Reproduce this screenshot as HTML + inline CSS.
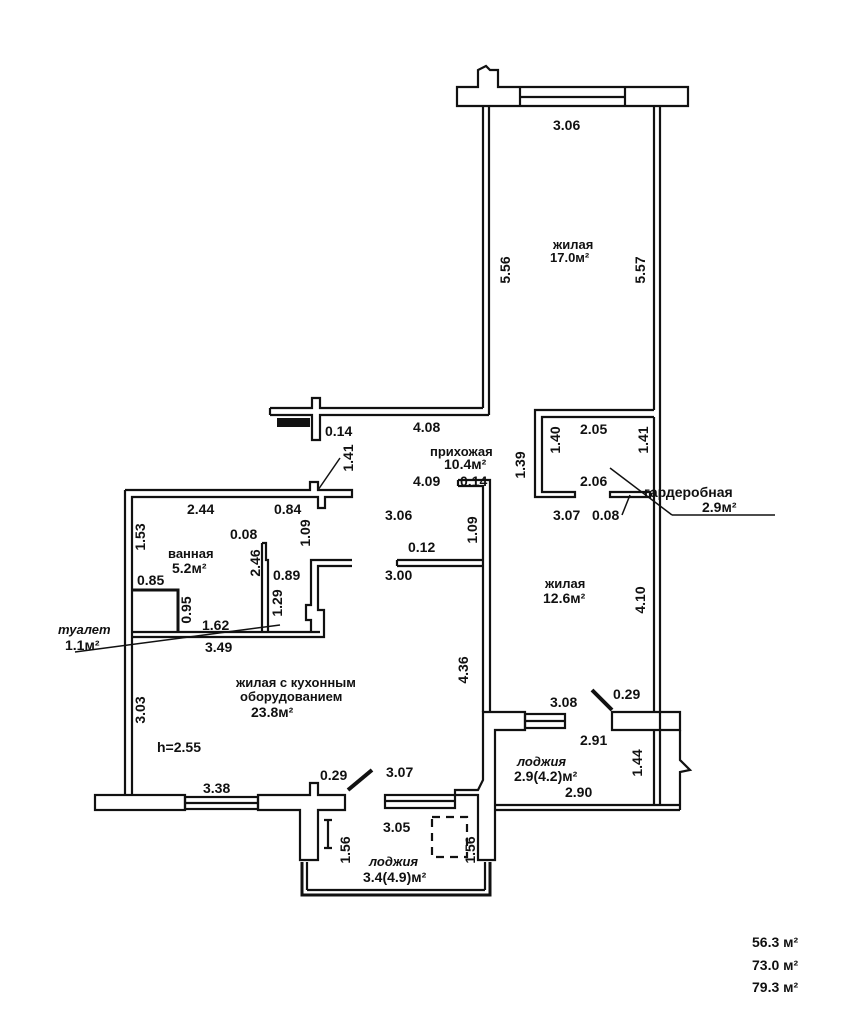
<!DOCTYPE html>
<html><head><meta charset="utf-8"><style>
html,body{margin:0;padding:0;background:#fff;}
svg{display:block}
text{font-family:"Liberation Sans",sans-serif;font-size:14px;fill:#111;font-weight:bold}
.v{text-anchor:middle;dominant-baseline:central}
</style></head><body>
<svg width="858" height="1030" viewBox="0 0 858 1030" xmlns="http://www.w3.org/2000/svg">
<g fill="none" stroke="#111" stroke-width="2.2">
<path d="M457 87 L478 87 L478 70 L486 66 L490 70 L498 70 L498 87 L688 87 L688 106 L457 106 Z"/>
<line x1="520" y1="87" x2="520" y2="106"/><line x1="625" y1="87" x2="625" y2="106"/>
<line x1="520" y1="97" x2="625" y2="97"/>
<line x1="483" y1="106" x2="483" y2="408"/><line x1="489" y1="106" x2="489" y2="415"/>
<line x1="654" y1="106" x2="654" y2="410"/><line x1="660" y1="106" x2="660" y2="805"/>
<line x1="654" y1="417" x2="654" y2="712"/>
<path d="M270 408 L312 408 L312 398 L320 398 L320 408 L483 408"/>
<path d="M270 415 L312 415 L312 440 L320 440 L320 415 L489 415"/>
<line x1="270" y1="408" x2="270" y2="415"/>
<path d="M654 410 L535 410 L535 497 L575 497 L575 492 L542 492 L542 417 L654 417"/>
<path d="M610 492 L650 492 L650 497 L610 497 Z"/>
<path d="M125 490 L310 490 L310 482 L318 482 L318 490 L352 490 L352 497 L325 497 L325 508 L318 508 L318 497 L132 497 L132 795"/>
<line x1="125" y1="490" x2="125" y2="795"/>
<path d="M262 543 L266 543 L266 560 L268 560 L268 632"/><line x1="262" y1="543" x2="262" y2="632"/>
<line x1="132" y1="632" x2="320" y2="632"/><line x1="132" y1="637" x2="320" y2="637"/>
<path d="M352 560 L311 560 L311 605 L306 605 L306 620 L311 620 L311 632"/>
<path d="M352 566 L318 566 L318 610 L324 610 L324 637 L320 637"/>
<path d="M458 480 L490 480 L490 712"/><path d="M458 486 L483 486 L483 712"/>
<line x1="458" y1="480" x2="458" y2="486"/>
<path d="M397 560 L483 560 M397 566 L483 566 M397 560 L397 566"/>
<rect x="95" y="795" width="90" height="15"/>
<rect x="185" y="797" width="73" height="12"/><line x1="185" y1="803" x2="258" y2="803"/>
<path d="M258 795 L310 795 L310 783 L318 783 L318 795 L345 795 L345 810 L318 810 L318 860 L300 860 L300 810 L258 810 Z"/>
<path d="M302 862 L302 895 L490 895 L490 862" stroke-width="3"/>
<line x1="307" y1="862" x2="307" y2="890"/><line x1="307" y1="890" x2="485" y2="890"/><line x1="485" y1="862" x2="485" y2="890"/>
<rect x="385" y="795" width="70" height="13"/><line x1="385" y1="801" x2="455" y2="801"/>
<path d="M455 795 L478 795 L478 860 L495 860 L495 730 L525 730 L525 712 L483 712 L483 780 L478 790 L455 790 Z"/>
<rect x="525" y="714" width="40" height="14"/><line x1="525" y1="721" x2="565" y2="721"/>
<path d="M612 712 L680 712 L680 730 L612 730 Z"/>
<path d="M680 730 L680 760 L690 770 L680 772 L680 810"/>
<line x1="495" y1="805" x2="680" y2="805"/><line x1="495" y1="810" x2="680" y2="810"/>
<line x1="654" y1="730" x2="654" y2="805"/>
<rect x="432" y="817" width="35" height="40" stroke-dasharray="8 6"/>
<path d="M328 820 L328 848 M324 820 L332 820 M324 848 L332 848"/>
</g>
<g stroke="#111" stroke-width="4">
<line x1="348" y1="790" x2="372" y2="770"/><line x1="612" y1="710" x2="592" y2="690"/>
<path d="M132 590 L178 590 L178 632" fill="none" stroke-width="3"/>
<rect x="277" y="418" width="33" height="9" fill="#111" stroke="none"/>
</g>
<g stroke="#111" stroke-width="1.5" fill="none">
<line x1="318" y1="490" x2="340" y2="458"/>
<line x1="610" y1="468" x2="672" y2="515"/><line x1="672" y1="515" x2="775" y2="515"/>
<line x1="75" y1="652" x2="280" y2="625"/>
<line x1="630" y1="495" x2="622" y2="515"/>
</g>
<text x="553" y="130">3.06</text>
<text x="553" y="249" style="font-size:13px">жилая</text>
<text x="550" y="262" style="font-size:13px">17.0м²</text>
<text class="v" transform="translate(505,270) rotate(-90)">5.56</text>
<text class="v" transform="translate(640,270) rotate(-90)">5.57</text>
<text x="413" y="432">4.08</text>
<text x="325" y="436">0.14</text>
<text class="v" transform="translate(348,458) rotate(-90)">1.41</text>
<text x="430" y="456" style="font-size:13px">прихожая</text>
<text x="444" y="469">10.4м²</text>
<text x="413" y="486">4.09</text><text x="460" y="486">0.14</text>
<text x="385" y="520">3.06</text>
<text class="v" transform="translate(472,530) rotate(-90)">1.09</text>
<text x="408" y="552">0.12</text>
<text x="385" y="580">3.00</text>
<text x="187" y="514">2.44</text><text x="274" y="514">0.84</text>
<text class="v" transform="translate(305,533) rotate(-90)">1.09</text>
<text class="v" transform="translate(140,537) rotate(-90)">1.53</text>
<text x="230" y="539">0.08</text>
<text x="168" y="558" style="font-size:13px">ванная</text>
<text x="172" y="573">5.2м²</text>
<text class="v" transform="translate(255,563) rotate(-90)">2.46</text>
<text x="273" y="580">0.89</text>
<text x="137" y="585">0.85</text>
<text class="v" transform="translate(186,610) rotate(-90)">0.95</text>
<text class="v" transform="translate(277,603) rotate(-90)">1.29</text>
<text x="202" y="630">1.62</text>
<text x="205" y="652">3.49</text>
<text x="58" y="634" style="font-size:13px;font-style:italic">туалет</text>
<text x="65" y="650">1.1м²</text>
<text class="v" transform="translate(520,465) rotate(-90)">1.39</text>
<text x="580" y="434">2.05</text>
<text class="v" transform="translate(555,440) rotate(-90)">1.40</text>
<text class="v" transform="translate(643,440) rotate(-90)">1.41</text>
<text x="580" y="486">2.06</text>
<text x="553" y="520">3.07</text><text x="592" y="520">0.08</text>
<text x="644" y="497">гардеробная</text>
<text x="702" y="512">2.9м²</text>
<text x="545" y="588" style="font-size:13px">жилая</text>
<text x="543" y="603">12.6м²</text>
<text class="v" transform="translate(640,600) rotate(-90)">4.10</text>
<text class="v" transform="translate(463,670) rotate(-90)">4.36</text>
<text x="236" y="687" style="font-size:13px">жилая с кухонным</text>
<text x="240" y="701" style="font-size:13px">оборудованием</text>
<text x="251" y="717">23.8м²</text>
<text class="v" transform="translate(140,710) rotate(-90)">3.03</text>
<text x="157" y="752">h=2.55</text>
<text x="203" y="793">3.38</text>
<text x="320" y="780">0.29</text>
<text x="386" y="777">3.07</text>
<text x="550" y="707">3.08</text>
<text x="613" y="699">0.29</text>
<text x="580" y="745">2.91</text>
<text x="517" y="766" style="font-size:13px;font-style:italic">лоджия</text>
<text x="514" y="781">2.9(4.2)м²</text>
<text x="565" y="797">2.90</text>
<text class="v" transform="translate(637,763) rotate(-90)">1.44</text>
<text x="383" y="832">3.05</text>
<text class="v" transform="translate(345,850) rotate(-90)">1.56</text>
<text class="v" transform="translate(470,850) rotate(-90)">1.56</text>
<text x="369" y="866" style="font-size:13px;font-style:italic">лоджия</text>
<text x="363" y="882">3.4(4.9)м²</text>
<text x="752" y="947">56.3 м²</text>
<text x="752" y="970">73.0 м²</text>
<text x="752" y="992">79.3 м²</text>
</svg>
</body></html>
